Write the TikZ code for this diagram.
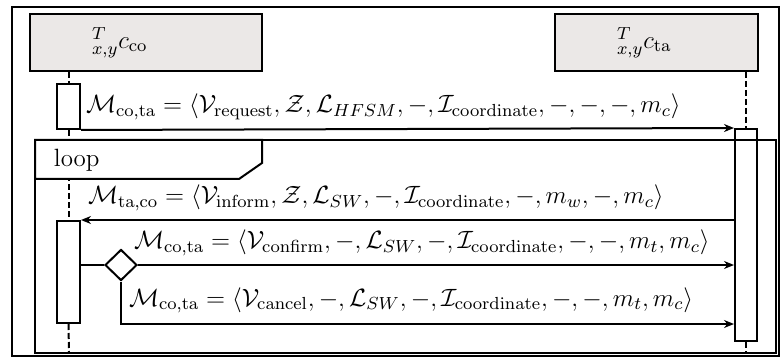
\RequirePackage{fix-cm}
\documentclass[tikz,border=0pt]{standalone}
\usepackage{tikz}
\usetikzlibrary{arrows.meta,shapes.geometric}
\definecolor{headgray}{RGB}{235,232,231}

\begin{document}
\begin{tikzpicture}[x=0.5pt, y=-0.5pt, >={Stealth[length=5pt, width=4pt]}, line width=1pt,
    font=\fontsize{12.5}{15}\selectfont,
    headbox/.style={draw, fill=headgray, minimum width=116pt, minimum height=28.5pt, inner sep=0pt},
    actbox/.style={draw, fill=white, minimum width=11.5pt, inner sep=0pt},
    lifeline/.style={dash pattern=on 3pt off 1.5pt},
    msg/.style={anchor=base west, inner sep=0pt}]
  \useasboundingbox (0,0) rectangle (782,358);
  % Cadre
  \draw (12,7) rectangle (779,356);
  % Objets
  \node[headbox] (co) at (146,42.5) {};
  \node[anchor=west, inner sep=0pt] at ([xshift=31pt]co.west) {${}^{T}_{x,y}c_{\mathrm{co}}$};
  \node[headbox, minimum width=101.5pt] (ta) at (656.5,42.5) {};
  \node[anchor=west, inner sep=0pt] at ([xshift=31pt]ta.west) {${}^{T}_{x,y}c_{\mathrm{ta}}$};
  % Activations
  \node[actbox, minimum height=22.5pt] (act1) at (68.5,106.5) {};
  \node[actbox, minimum height=51pt] (act2) at (68.5,272) {};
  \node[actbox, minimum width=11pt, minimum height=106pt] (actta) at (746,235) {};
  \coordinate (coend) at (69,353);
  \coordinate (taend) at (746,353);
  % Lignes de vie
  \draw[lifeline] (co.south -| act1) -- (act1.north);
  \draw[lifeline] (act1.south) -- (act2.north);
  \draw[lifeline] (act2.south) -- (coend);
  \draw[lifeline] (ta.south -| actta) -- (actta.north);
  \draw[lifeline] (actta.south) -- (taend);
  % Boucle
  \draw (35,140) rectangle (776,353);
  \draw[fill=white] (35,140) -- (262,140) -- (262,163) -- (239,179) -- (35,179) -- cycle;
  \node[msg] (loop) at (53,167) {loop};
  % Messages
  \draw[->] (act1.south east) -- (actta.north west);
  \node[msg] (m1) at (85,113)
    {$\mathcal{M}_{\mathrm{co,ta}} = \langle \mathcal{V}_{\mathrm{request}}, \mathcal{Z}, \mathcal{L}_{HFSM}, -, \mathcal{I}_{\mathrm{coordinate}}, -, -, -, m_c\rangle$};
  \draw[->] (act2.north east -| actta.west) -- (act2.north east);
  \node[msg] (m2) at (87,204)
    {$\mathcal{M}_{\mathrm{ta,co}} = \langle \mathcal{V}_{\mathrm{inform}}, \mathcal{Z}, \mathcal{L}_{SW}, -, \mathcal{I}_{\mathrm{coordinate}}, -, m_w, -, m_c\rangle$};
  % Choix
  \node[diamond, draw, fill=white, inner sep=0pt, minimum width=16pt, minimum height=15.5pt] (dec) at (121,265) {};
  \draw (act2.east |- dec) -- (dec.west);
  \draw[->] (dec.east) -- (dec -| actta.west);
  \node[msg] (m3) at (133,249)
    {$\mathcal{M}_{\mathrm{co,ta}} = \langle \mathcal{V}_{\mathrm{confirm}}, -, \mathcal{L}_{SW}, -, \mathcal{I}_{\mathrm{coordinate}}, -, -, m_t, m_c\rangle$};
  \draw[->] (dec.south) |- (actta.west |- act2.south);
  \node[msg] (m4) at (128,306)
    {$\mathcal{M}_{\mathrm{co,ta}} = \langle \mathcal{V}_{\mathrm{cancel}}, -, \mathcal{L}_{SW}, -, \mathcal{I}_{\mathrm{coordinate}}, -, -, m_t, m_c\rangle$};
\end{tikzpicture}
\end{document}
